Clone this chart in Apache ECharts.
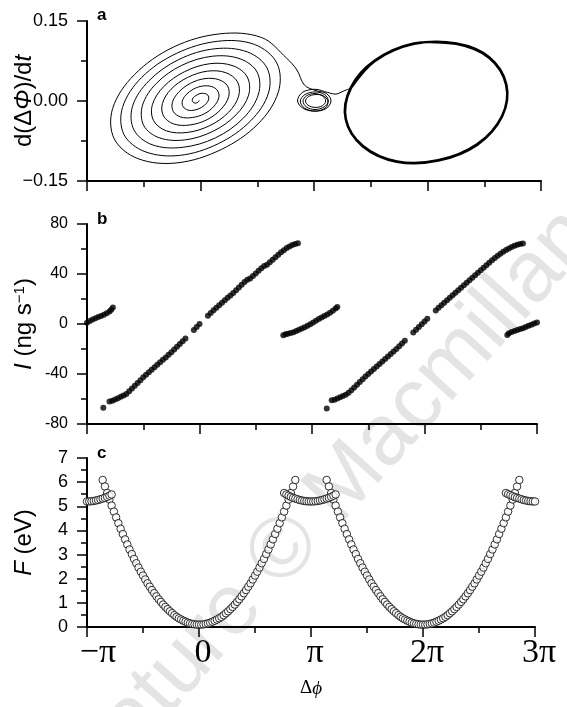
<!DOCTYPE html>
<html>
<head>
<meta charset="utf-8">
<title>Phase portrait, current and free energy vs phase difference</title>
<script src="https://cdn.jsdelivr.net/npm/echarts@6.0.0/dist/echarts.min.js"></script>
<style>
  html, body { margin: 0; padding: 0; background: #fff; }
  #chart { width: 567px; height: 707px; }
</style>
</head>
<body>
<div id="chart"></div>
<script>
// all x values are delta phi in units of pi
const xTickLabels = {'-1': '−π', '0': '0', '1': 'π', '2': '2π', '3': '3π'};

// panel a: d(delta Phi)/dt, trajectory
const bigSpiral = [
  [-0.011,0.001],[-0.016,-0.001],[-0.029,-0.003],[-0.048,-0.004],[-0.065,-0.002],[-0.073,0.001],[-0.065,0.006],[-0.041,0.010],[-0.004,0.014],[0.036,0.014],[0.065,0.011],[0.073,0.004],
  [0.054,-0.004],[0.009,-0.012],[-0.051,-0.017],[-0.111,-0.017],[-0.152,-0.011],[-0.161,-0.001],[-0.130,0.011],[-0.065,0.022],[0.018,0.028],[0.099,0.027],[0.152,0.019],[0.161,0.006],
  [0.118,-0.010],[0.034,-0.024],[-0.073,-0.031],[-0.174,-0.030],[-0.239,-0.020],[-0.248,-0.003],[-0.195,0.016],[-0.090,0.033],[0.040,0.042],[0.161,0.040],[0.239,0.028],[0.248,0.008],
  [0.183,-0.015],[0.058,-0.035],[-0.096,-0.045],[-0.237,-0.043],[-0.326,-0.028],[-0.336,-0.005],[-0.260,0.022],[-0.115,0.044],[0.063,0.056],[0.224,0.053],[0.326,0.036],[0.336,0.009],
  [0.248,-0.021],[0.083,-0.046],[-0.118,-0.059],[-0.300,-0.056],[-0.413,-0.037],[-0.424,-0.007],[-0.324,0.027],[-0.140,0.055],[0.085,0.070],[0.287,0.066],[0.412,0.045],[0.424,0.011],
  [0.313,-0.026],[0.108,-0.057],[-0.140,-0.073],[-0.363,-0.069],[-0.500,-0.046],[-0.511,-0.008],[-0.389,0.033],[-0.164,0.067],[0.107,0.084],[0.350,0.079],[0.499,0.054],[0.511,0.013],
  [0.378,-0.032],[0.133,-0.069],[-0.162,-0.087],[-0.426,-0.082],[-0.587,-0.054],[-0.599,-0.010],[-0.454,0.038],[-0.189,0.078],[0.129,0.098],[0.413,0.092],[0.586,0.062],[0.599,0.015],
  [0.443,-0.037],[0.157,-0.080],[-0.184,-0.102],[-0.489,-0.095],[-0.674,-0.063],[-0.687,-0.012],[-0.519,0.044],[-0.214,0.089],[0.151,0.112],[0.476,0.106],[0.673,0.071],[0.686,0.017],
  [0.507,-0.043],[0.182,-0.091],[-0.206,-0.116],[-0.552,-0.108],[-0.760,-0.071],[-0.774,-0.014],[-0.584,0.049],[-0.239,0.101],[0.173,0.126],[0.539,0.119],[0.760,0.080]
];
const smallSpiral = [
  [0.850,0.058],[0.915,0.030],[1.009,0.020],[1.110,0.014],[1.150,0],[1.107,-0.014],[1.009,-0.019],[0.915,-0.013],[0.879,0],
  [0.920,0.012],[1.009,0.017],[1.094,0.012],[1.126,0],[1.090,-0.011],[1.009,-0.016],[0.932,-0.011],[0.903,0],
  [0.936,0.010],[1.009,0.014],[1.078,0.009],[1.103,0],[1.073,-0.009],[1.009,-0.012],[0.948,-0.008],[0.925,0],
  [0.950,0.008],[1.009,0.012],[1.080,0.010],[1.123,0],[1.100,-0.013],[1.009,-0.019],[0.906,-0.014],[0.855,0],
  [0.897,0.016],[1.009,0.022],[1.121,0.016],[1.194,0.013],[1.264,0.019],[1.326,0.024]
];
const limitCycle = [
  [1.326,0.024],[1.537,0.075],[1.881,0.107],[2.251,0.107],[2.542,0.081],[2.692,0.030],[2.656,-0.028],[2.436,-0.081],[2.093,-0.111],[1.731,-0.113],[1.432,-0.084],[1.282,-0.034],
  [1.326,0.024],[1.537,0.075],[1.881,0.107],[2.255,0.108],[2.546,0.082],[2.696,0.031],[2.660,-0.028],[2.440,-0.082],[2.095,-0.112],[1.729,-0.114],[1.428,-0.085],[1.278,-0.034],
  [1.322,0.025],[1.535,0.076],[1.881,0.108],[2.251,0.107]
];

// panel b: I (ng s^-1)
const bSegLeft = [[-1.0,1.0],[-0.975,2.4],[-0.95,3.6],[-0.925,4.6],[-0.9,5.6],[-0.875,6.4],[-0.85,7.4],[-0.825,8.6],[-0.8,10.0],[-0.785,11.4],[-0.77,13.2]];
const bLine1 = [
  [-0.855,-67.0],[-0.8,-62.0],[-0.775,-61.3],[-0.75,-60.3],[-0.725,-59.3],[-0.7,-58.2],[-0.675,-57.1],[-0.65,-56.0],[-0.625,-53.8],[-0.6,-51.6],[-0.575,-49.4],[-0.55,-47.2],
  [-0.525,-45.0],[-0.5,-42.6],[-0.475,-40.6],[-0.45,-38.6],[-0.425,-36.6],[-0.4,-34.6],[-0.375,-32.6],[-0.35,-30.5],[-0.325,-28.5],[-0.3,-26.8],[-0.275,-24.6],[-0.25,-22.5],
  [-0.225,-20.3],[-0.2,-18.1],[-0.175,-15.9],[-0.15,-13.7],[-0.125,-11.5],[-0.05,-4.7],[-0.025,-2.3],[0,0],[0.075,6.6],[0.1,8.8],[0.125,11.0],[0.15,13.1],
  [0.175,15.1],[0.2,17.1],[0.225,19.0],[0.25,21.0],[0.275,22.8],[0.3,24.8],[0.325,27.0],[0.35,29.2],[0.375,31.4],[0.4,33.6],[0.425,35.4],[0.45,36.4],
  [0.475,38.4],[0.5,40.5],[0.525,42.6],[0.55,44.7],[0.575,46.5],[0.6,47.5],[0.625,49.5],[0.65,51.5],[0.675,53.5],[0.7,55.5],[0.725,57.5],[0.75,59.0],
  [0.775,60.8],[0.8,62.0],[0.825,63.2],[0.85,64.0],[0.875,64.6]
];
const bSegMid = [
  [0.745,-9.0],[0.765,-8.2],[0.785,-7.8],[0.81,-7.2],[0.835,-6.5],[0.86,-5.6],[0.885,-4.6],[0.91,-3.6],[0.935,-2.6],[0.96,-1.4],[0.985,-0.2],
  [1.01,1.2],[1.035,2.6],[1.06,4.0],[1.085,5.2],[1.11,6.4],[1.135,7.6],[1.16,9.0],[1.185,10.6],[1.21,12.4],[1.225,13.6]
];
const bLine2 = [
  [1.131,-67.5],[1.175,-61.0],[1.2,-60.5],[1.225,-59.6],[1.25,-58.6],[1.275,-57.6],[1.3,-56.5],[1.325,-55.0],[1.35,-53.0],[1.375,-50.8],[1.4,-48.6],[1.425,-46.4],
  [1.45,-44.2],[1.475,-42.0],[1.5,-40.0],[1.525,-38.0],[1.55,-36.0],[1.575,-34.0],[1.6,-32.0],[1.625,-30.0],[1.65,-28.0],[1.675,-26.0],[1.7,-24.0],[1.725,-22.0],
  [1.75,-20.0],[1.775,-17.8],[1.8,-15.6],[1.825,-13.4],[1.9,-6.8],[1.925,-4.6],[1.95,-2.4],[1.975,-0.2],[2.0,2.0],[2.025,4.2],[2.1,10.8],[2.125,13.0],
  [2.15,15.0],[2.175,17.0],[2.2,19.0],[2.225,21.0],[2.25,23.0],[2.275,25.0],[2.3,27.0],[2.325,29.0],[2.35,31.0],[2.375,33.0],[2.4,35.0],[2.425,37.0],
  [2.45,39.0],[2.475,41.0],[2.5,43.0],[2.525,45.0],[2.55,47.0],[2.575,49.0],[2.6,51.0],[2.625,52.8],[2.65,54.6],[2.675,56.2],[2.7,57.8],[2.725,59.2],
  [2.75,60.4],[2.775,61.6],[2.8,62.6],[2.825,63.4],[2.85,64.0],[2.875,64.4]
];
const bSegRight = [[2.736,-8.8],[2.75,-7.4],[2.775,-6.4],[2.8,-5.6],[2.825,-4.8],[2.85,-4.0],[2.875,-3.3],[2.9,-2.4],[2.925,-1.4],[2.95,-0.5],[2.975,0.4],[3.0,1.2]];

// panel c: F (eV)
const cWell1 = [
  [-0.86,6.09],[-0.84,5.82],[-0.82,5.55],[-0.80,5.28],[-0.78,5.03],[-0.76,4.78],[-0.74,4.54],[-0.72,4.30],[-0.70,4.07],[-0.68,3.85],[-0.66,3.63],[-0.64,3.42],
  [-0.62,3.21],[-0.60,3.02],[-0.58,2.82],[-0.56,2.64],[-0.54,2.46],[-0.52,2.29],[-0.50,2.13],[-0.48,1.97],[-0.46,1.81],[-0.44,1.67],[-0.42,1.53],[-0.40,1.40],
  [-0.38,1.27],[-0.36,1.15],[-0.34,1.04],[-0.32,0.93],[-0.30,0.83],[-0.28,0.74],[-0.26,0.65],[-0.24,0.57],[-0.22,0.49],[-0.20,0.42],[-0.18,0.36],[-0.16,0.31],
  [-0.14,0.26],[-0.12,0.22],[-0.10,0.18],[-0.08,0.15],[-0.06,0.13],[-0.04,0.11],[-0.02,0.10],[0,0.10],[0.02,0.10],[0.04,0.11],[0.06,0.13],[0.08,0.15],
  [0.10,0.18],[0.12,0.22],[0.14,0.26],[0.16,0.31],[0.18,0.36],[0.20,0.42],[0.22,0.49],[0.24,0.57],[0.26,0.65],[0.28,0.74],[0.30,0.83],[0.32,0.93],
  [0.34,1.04],[0.36,1.15],[0.38,1.27],[0.40,1.40],[0.42,1.53],[0.44,1.67],[0.46,1.81],[0.48,1.97],[0.50,2.13],[0.52,2.29],[0.54,2.46],[0.56,2.64],
  [0.58,2.82],[0.60,3.02],[0.62,3.21],[0.64,3.42],[0.66,3.63],[0.68,3.85],[0.70,4.07],[0.72,4.30],[0.74,4.54],[0.76,4.78],[0.78,5.03],[0.80,5.28],
  [0.82,5.55],[0.84,5.82],[0.86,6.09]
];
const cWell2 = [
  [1.14,6.09],[1.16,5.82],[1.18,5.55],[1.20,5.28],[1.22,5.03],[1.24,4.78],[1.26,4.54],[1.28,4.30],[1.30,4.07],[1.32,3.85],[1.34,3.63],[1.36,3.42],
  [1.38,3.21],[1.40,3.02],[1.42,2.82],[1.44,2.64],[1.46,2.46],[1.48,2.29],[1.50,2.13],[1.52,1.97],[1.54,1.81],[1.56,1.67],[1.58,1.53],[1.60,1.40],
  [1.62,1.27],[1.64,1.15],[1.66,1.04],[1.68,0.93],[1.70,0.83],[1.72,0.74],[1.74,0.65],[1.76,0.57],[1.78,0.49],[1.80,0.42],[1.82,0.36],[1.84,0.31],
  [1.86,0.26],[1.88,0.22],[1.90,0.18],[1.92,0.15],[1.94,0.13],[1.96,0.11],[1.98,0.10],[2.00,0.10],[2.02,0.10],[2.04,0.11],[2.06,0.13],[2.08,0.15],
  [2.10,0.18],[2.12,0.22],[2.14,0.26],[2.16,0.31],[2.18,0.36],[2.20,0.42],[2.22,0.49],[2.24,0.57],[2.26,0.65],[2.28,0.74],[2.30,0.83],[2.32,0.93],
  [2.34,1.04],[2.36,1.15],[2.38,1.27],[2.40,1.40],[2.42,1.53],[2.44,1.67],[2.46,1.81],[2.48,1.97],[2.50,2.13],[2.52,2.29],[2.54,2.46],[2.56,2.64],
  [2.58,2.82],[2.60,3.02],[2.62,3.21],[2.64,3.42],[2.66,3.63],[2.68,3.85],[2.70,4.07],[2.72,4.30],[2.74,4.54],[2.76,4.78],[2.78,5.03],[2.80,5.28],
  [2.82,5.55],[2.84,5.82],[2.86,6.09]
];
const cTopLeft = [[-1.00,5.20],[-0.98,5.20],[-0.96,5.21],[-0.94,5.22],[-0.92,5.24],[-0.90,5.26],[-0.88,5.29],[-0.86,5.32],[-0.84,5.35],[-0.82,5.39],[-0.80,5.44],[-0.78,5.49]];
const cTopMid = [
  [0.76,5.55],[0.78,5.49],[0.80,5.44],[0.82,5.39],[0.84,5.35],[0.86,5.32],[0.88,5.29],[0.90,5.26],[0.92,5.24],[0.94,5.22],[0.96,5.21],[0.98,5.20],
  [1.00,5.20],[1.02,5.20],[1.04,5.21],[1.06,5.22],[1.08,5.24],[1.10,5.26],[1.12,5.29],[1.14,5.32],[1.16,5.35],[1.18,5.39],[1.20,5.44],[1.22,5.49]
];
const cTopRight = [[2.74,5.55],[2.76,5.50],[2.78,5.46],[2.80,5.42],[2.82,5.38],[2.84,5.35],[2.86,5.32],[2.88,5.29],[2.90,5.26],[2.92,5.24],[2.94,5.22],[2.96,5.21],[2.98,5.20],[3.00,5.20]];

const SANS = '"Liberation Sans", "DejaVu Sans", sans-serif';
const SERIF = '"Liberation Serif", "DejaVu Serif", serif';

function xAxisFor(gridIndex, showLabels) {
    return {
        type: 'value', gridIndex: gridIndex, min: -1, max: 3, interval: 1,
        axisLine: {onZero: false, lineStyle: {color: '#000', width: 2}},
        axisTick: {length: 10, lineStyle: {color: '#000', width: 1.5}},
        minorTick: {show: true, splitNumber: 2, length: 6, lineStyle: {color: '#000', width: 1.5}},
        splitLine: {show: false},
        axisLabel: {
            show: showLabels, margin: 9,
            formatter: function (v) {
                const t = xTickLabels[String(Math.round(v))];
                return v < -0.5 ? '{m|' + t + '}' : '{t|' + t + '}';
            },
            rich: {
                m: {fontFamily: SERIF, fontSize: 34, color: '#000', padding: [0, 0, 0, 22]},
                t: {fontFamily: SERIF, fontSize: 34, color: '#000', padding: [0, 0, 0, 8]}
            }
        }
    };
}

function yAxisFor(gridIndex, min, max, interval, fontSize, fmt) {
    return {
        type: 'value', gridIndex: gridIndex, min: min, max: max, interval: interval,
        axisLine: {show: true, onZero: false, lineStyle: {color: '#000', width: 2}},
        axisTick: {show: true, length: 10, lineStyle: {color: '#000', width: 1.5}},
        minorTick: {show: true, splitNumber: 2, length: 6, lineStyle: {color: '#000', width: 1.5}},
        splitLine: {show: false},
        axisLabel: {margin: 19, color: '#000', fontFamily: SANS, fontSize: fontSize, formatter: fmt},
        nameLocation: 'middle', nameRotate: 90, nameGap: 51, nameMoveOverlap: false
    };
}

const nameRich = {
    n: {fontFamily: SANS, fontSize: 24, color: '#000'},
    i: {fontFamily: SANS, fontSize: 24, color: '#000', fontStyle: 'italic'},
    sup: {fontFamily: SANS, fontSize: 15, color: '#000', verticalAlign: 'top'}
};

let myChart = echarts.init(document.getElementById('chart'));

const yA = yAxisFor(0, -0.15, 0.15, 0.15, 18, function (v) {
    if (Math.abs(v) < 1e-9) return '0.00';
    return (v < 0 ? '−' : '') + Math.abs(v).toFixed(2);
});
yA.name = '{n|d(Δ}{i|Φ}{n|)/d}{i|t}';
yA.nameTextStyle = {rich: nameRich};

const yB = yAxisFor(1, -80, 80, 40, 16, function (v) { return String(Math.round(v)); });
yB.name = '{i|I}{n| (ng s}{sup|−1}{n|)}';
yB.nameTextStyle = {rich: nameRich};

const yC = yAxisFor(2, 0, 7, 1, 18, function (v) { return String(Math.round(v)); });
yC.name = '{i|F}{n| (eV)}';
yC.nameTextStyle = {rich: nameRich};

const xC = xAxisFor(2, true);
xC.name = '{d|Δ}{p|ϕ}';
xC.nameLocation = 'middle';
xC.nameGap = 52;
xC.nameMoveOverlap = false;
xC.nameTextStyle = {rich: {
    d: {fontFamily: SERIF, fontSize: 19, color: '#000'},
    p: {fontFamily: SERIF, fontSize: 19, color: '#000', fontStyle: 'italic'}
}};

// phase-plane trajectory: one smooth polyline through the points, placed by the axes
function curve(points, width) {
    return {
        type: 'custom', xAxisIndex: 0, yAxisIndex: 0, data: points, silent: true,
        renderItem: function (params, api) {
            if (params.dataIndex !== 0) return null;
            return {
                type: 'polyline',
                shape: {points: points.map(function (p) { return api.coord(p); }), smooth: 0.35},
                style: {stroke: '#000', lineWidth: width, fill: null}
            };
        }
    };
}
function dots(data) {
    return {
        type: 'scatter', xAxisIndex: 1, yAxisIndex: 1, data: data,
        symbol: 'circle', symbolSize: 6, itemStyle: {color: '#000'}
    };
}
function rings(data) {
    return {
        type: 'scatter', xAxisIndex: 2, yAxisIndex: 2, data: data,
        symbol: 'circle', symbolSize: 7.5,
        itemStyle: {color: '#fff', borderColor: '#000', borderWidth: 1}
    };
}

myChart.setOption({
    animation: false,
    backgroundColor: '#fff',
    grid: [
        {left: 87, top: 21, width: 454, height: 160, outerBoundsMode: 'none', containLabel: false},
        {left: 87, top: 224, width: 450, height: 200, outerBoundsMode: 'none', containLabel: false},
        {left: 87, top: 458, width: 448, height: 169, outerBoundsMode: 'none', containLabel: false}
    ],
    xAxis: [xAxisFor(0, false), xAxisFor(1, false), xC],
    yAxis: [yA, yB, yC],
    graphic: [
        // faint publisher watermark behind the plots
        {
            type: 'text', x: 75, y: 784, rotation: 0.838, z: -10, silent: true,
            style: {text: 'Nature © Macmillan', fill: '#e4e4e4', fontFamily: SANS, fontSize: 86, align: 'left', verticalAlign: 'middle'}
        },
        {type: 'text', left: 97, top: 7, style: {text: 'a', fill: '#000', font: 'bold 17px ' + SANS}},
        {type: 'text', left: 97, top: 211, style: {text: 'b', fill: '#000', font: 'bold 17px ' + SANS}},
        {type: 'text', left: 97, top: 445, style: {text: 'c', fill: '#000', font: 'bold 17px ' + SANS}}
    ],
    series: [
        curve(bigSpiral.concat(smallSpiral), 1),
        curve(limitCycle, 2.2),
        dots(bSegLeft), dots(bLine1), dots(bSegMid), dots(bLine2), dots(bSegRight),
        rings(cWell1), rings(cWell2), rings(cTopLeft), rings(cTopMid), rings(cTopRight)
    ]
});
</script>
</body>
</html>
